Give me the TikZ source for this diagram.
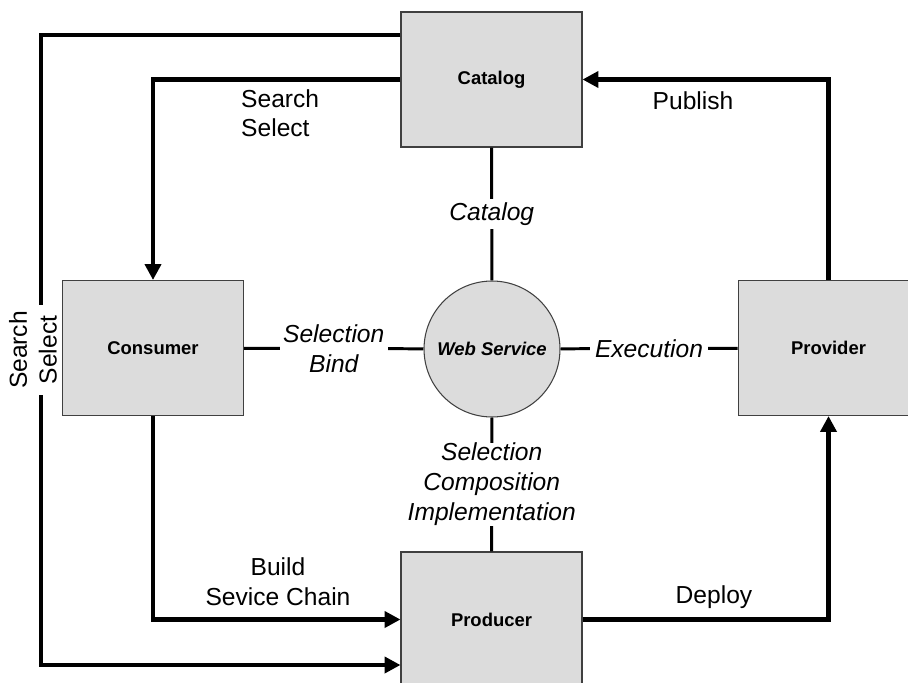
\documentclass[tikz,border=0pt]{standalone}
\usepackage{fontspec}
\setmainfont{Liberation Sans}
\usetikzlibrary{arrows.meta,positioning}
\definecolor{boxgray}{HTML}{DCDCDC}
\begin{document}
\begin{tikzpicture}[
x=0.02cm,y=-0.02cm,
every node/.style={font=\fontsize{14}{17}\selectfont},
agent/.style={rectangle,draw=black!75,line width=0.6pt,fill=boxgray,minimum width=3.62cm,minimum height=2.7cm,font=\fontsize{10.5}{12}\selectfont\bfseries},
service/.style={circle,draw=black!75,line width=0.6pt,fill=boxgray,minimum size=2.72cm,inner sep=0pt,font=\fontsize{10.5}{12}\selectfont\bfseries\itshape},
wire/.style={line width=2.3pt},
flow/.style={wire,-{Triangle[length=9pt,width=9pt]}},
link/.style={line width=1.7pt},
role/.style={fill=white,inner sep=2pt,font=\fontsize{14}{17}\selectfont\itshape,align=center}
]
\useasboundingbox (0,0) rectangle (908,682);

% actors and the service
\node[agent] (catalog) at (491.5,79.5) {Catalog};
\node[agent] (consumer) at (153,348) {Consumer};
\node[agent] (provider) at (828.5,348) {Provider};
\node[agent] (producer) at (491.5,619.5) {Producer};
\node[service] (ws) at (492,349) {Web Service};

% outer loop
\coordinate (loopTL) at (41,35);
\coordinate (loopBL) at (41,665);
\node[rotate=90,align=center] (searchL) at (33,350) {Search\\Select};
\draw[wire] (catalog.west |- loopTL) -- (loopTL) -- (loopTL |- searchL.east);
\draw[flow] (loopTL |- searchL.west) -- (loopBL) -- (loopBL -| producer.west);

% flows
\draw[flow] (catalog.west) -| (consumer.north);
\draw[flow] (consumer.south) |- (producer.west);
\draw[flow] (provider.north) |- (catalog.east);
\draw[flow] (producer.east) -| (provider.south);

\node[anchor=north west,align=left] (searchI) at (235,83) {Search\\Select};
\node (publishL) at (693,101) {Publish};
\node[align=center] (buildL) at (278,582) {Build\\Sevice Chain};
\node (deployL) at (714,597) {Deploy};

% links to the service
\draw[link] (catalog) -- node[role]{Catalog} (ws);
\draw[link] (consumer) -- node[role]{Selection\\Bind} (ws);
\draw[link] (ws) -- node[role,inner sep=3pt]{Execution} (provider);
\draw[link] (ws) -- node[role,inner sep=0pt]{Selection\\Composition\\Implementation} (producer);
\end{tikzpicture}
\end{document}
